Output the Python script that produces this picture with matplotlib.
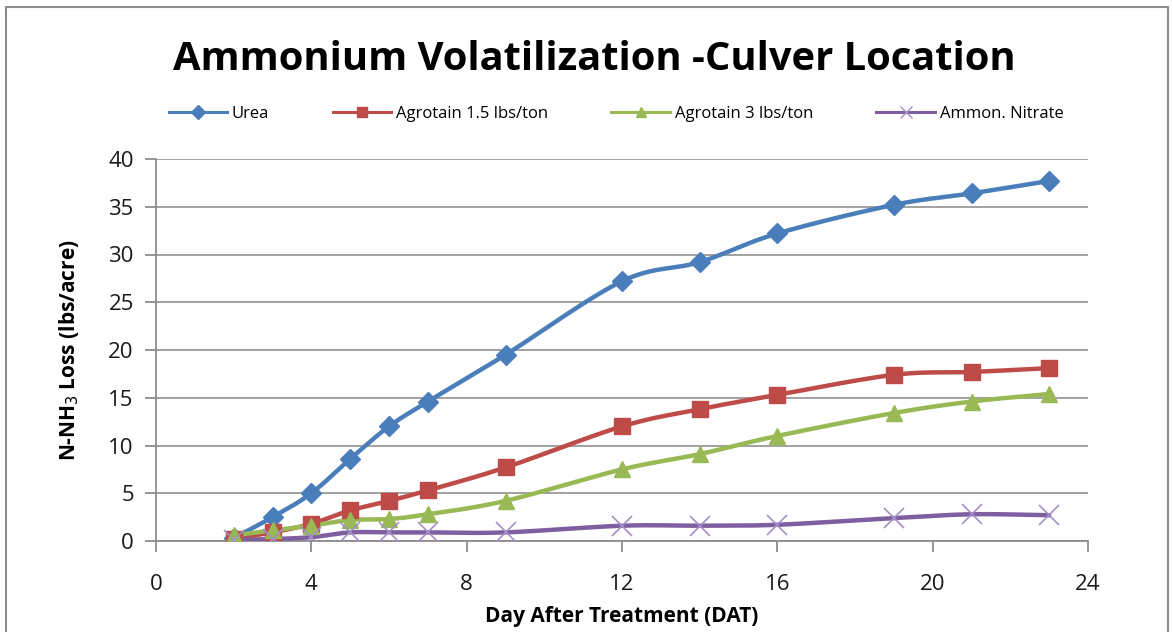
import numpy as np
import matplotlib
matplotlib.use("Agg")
import matplotlib.pyplot as plt
from matplotlib.patches import Rectangle
from matplotlib.lines import Line2D

days = [2, 3, 4, 5, 6, 7, 9, 12, 14, 16, 19, 21, 23]
urea = [0.3, 2.5, 5.0, 8.6, 12.0, 14.6, 19.5, 27.2, 29.2, 32.2, 35.2, 36.4, 37.7]
agro15 = [0.2, 0.9, 1.8, 3.2, 4.2, 5.3, 7.7, 12.0, 13.8, 15.3, 17.4, 17.7, 18.1]
agro3 = [0.6, 1.1, 1.6, 2.2, 2.3, 2.8, 4.2, 7.5, 9.1, 11.0, 13.4, 14.6, 15.4]
ammon = [0.1, 0.2, 0.4, 0.9, 0.9, 0.9, 0.9, 1.6, 1.6, 1.7, 2.4, 2.8, 2.7]

series_names = ["Urea", "Agrotain 1.5 lbs/ton", "Agrotain 3 lbs/ton", "Ammon. Nitrate"]
x_ticks = [0, 4, 8, 12, 16, 20, 24]
y_ticks = [0, 5, 10, 15, 20, 25, 30, 35, 40]


def smooth(x, y, n=20):
    """Catmull-Rom style curve through the data points (Excel 'smoothed line' look)."""
    x = np.asarray(x, float)
    y = np.asarray(y, float)
    px = np.concatenate([[2 * x[0] - x[1]], x, [2 * x[-1] - x[-2]]])
    py = np.concatenate([[2 * y[0] - y[1]], y, [2 * y[-1] - y[-2]]])
    xs, ys = [], []
    t = np.linspace(0, 1, n)
    for i in range(1, len(px) - 2):
        p0, p1, p2, p3 = (np.array([px[j], py[j]]) for j in (i - 1, i, i + 1, i + 2))
        b1 = p1 + (p2 - p0) / 6.0
        b2 = p2 - (p3 - p1) / 6.0
        pts = ((1 - t) ** 3)[:, None] * p1 + (3 * (1 - t) ** 2 * t)[:, None] * b1 \
            + (3 * (1 - t) * t ** 2)[:, None] * b2 + (t ** 3)[:, None] * p2
        xs.extend(pts[:, 0])
        ys.extend(pts[:, 1])
    return np.array(xs), np.array(ys)


plt.rcParams['font.family'] = ['Open Sans', 'DejaVu Sans']

fig = plt.figure(figsize=(11.73, 6.32), dpi=100)
W, H = 1173, 632
ax = fig.add_axes([156 / W, 1 - 541 / H, (1088 - 156) / W, (541 - 159) / H])

# outer chart frame
fig.patches.append(Rectangle((6 / W, -0.05), (1168 - 6) / W, 1 - 7 / H + 0.05,
                             transform=fig.transFigure, fill=False,
                             edgecolor='#8c8c8c', linewidth=1.5))

colors = ['#4a7ebb', '#be4b48', '#98b954', '#7d5fa0']
markers = ['D', 's', '^', 'x']
msizes = [10, 12, 11, 15]
data = [urea, agro15, agro3, ammon]

handles = []
for vals, c, m, ms, name in zip(data, colors, markers, msizes, series_names):
    sx, sy = smooth(days, vals)
    ax.plot(sx, sy, color=c, linewidth=3.2, zorder=3, solid_capstyle='round')
    if m == 'x':
        ax.plot(days, vals, linestyle='none', marker='x', markersize=ms,
                markeredgecolor='#a58fc8', markeredgewidth=1.2, zorder=4)
    else:
        ax.plot(days, vals, linestyle='none', marker=m, markersize=ms,
                markerfacecolor=c, markeredgecolor=c, zorder=4)
    if m == 'x':
        h = Line2D([], [], color=c, linewidth=2.2, marker='x', markersize=8,
                   markeredgecolor='#a58fc8', markeredgewidth=1.0)
    else:
        h = Line2D([], [], color=c, linewidth=2.2, marker=m, markersize=7,
                   markerfacecolor=c, markeredgecolor=c)
    handles.append(h)

ax.set_xlim(0, 24)
ax.set_ylim(0, 40)
ax.set_xticks(x_ticks)
ax.set_yticks(y_ticks)
ax.grid(axis='y', color='#9a9a9a', linewidth=1.3)
ax.set_axisbelow(True)
for s in ['top', 'right']:
    ax.spines[s].set_visible(False)
for s in ['left', 'bottom']:
    ax.spines[s].set_color('#8c8c8c')
    ax.spines[s].set_linewidth(1.3)
ax.tick_params(axis='both', direction='out', length=8, width=1.3, color='#8c8c8c',
               labelsize=16, labelcolor='#1a1a1a')
ax.tick_params(axis='x', pad=16)
ax.tick_params(axis='y', pad=8)

ax.set_xlabel('Day After Treatment (DAT)', fontsize=15, fontweight='bold', labelpad=8)
ax.set_ylabel('N-NH$_3$ Loss (lbs/acre)', fontsize=15, fontweight='bold', labelpad=20)

fig.text(594 / W, 1 - 60 / H, 'Ammonium Volatilization -Culver Location',
         ha='center', va='center', fontsize=28.7, fontweight='bold', color='black')

fig.legend(handles, series_names, loc='center', bbox_to_anchor=(616 / W, 1 - 114 / H),
           ncol=4, frameon=False, fontsize=12, handlelength=3.5, columnspacing=3.8,
           handletextpad=0.3)

fig.savefig('out.png', dpi=100)
